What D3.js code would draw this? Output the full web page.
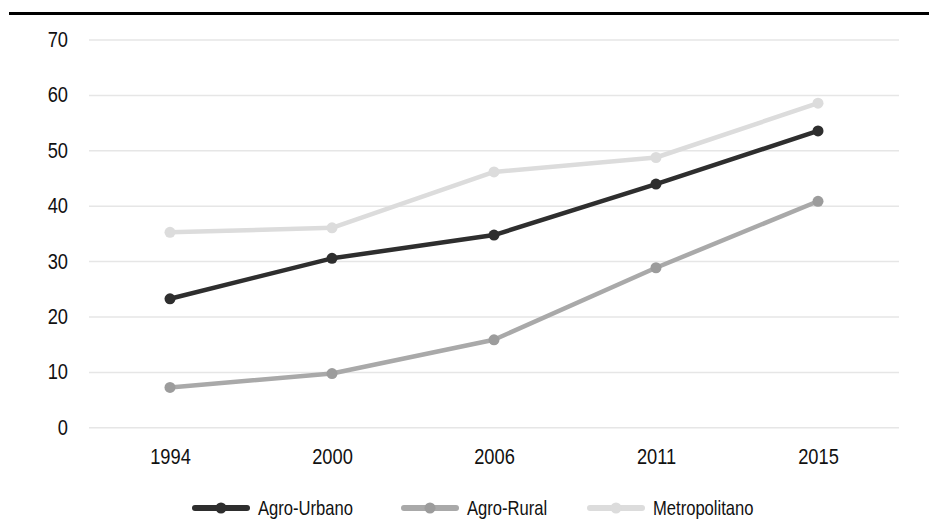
<!DOCTYPE html>
<html><head><meta charset="utf-8">
<script src="https://cdn.jsdelivr.net/npm/d3@7"></script>
<style>body{margin:0;background:#fff}svg{display:block}text{font-family:"Liberation Sans",Arial,sans-serif;fill:#111}</style>
</head><body><svg id="c" width="929" height="532"></svg>
<script>
const years = ["1994","2000","2006","2011","2015"];
const agroUrbano = [23.2, 30.5, 34.7, 43.9, 53.5];
const agroRural = [7.2, 9.7, 15.8, 28.8, 40.8];
const metropolitano = [35.2, 36.0, 46.1, 48.7, 58.5];
const yTicks = [0,10,20,30,40,50,60,70];
const seriesNames = ["Agro-Urbano","Agro-Rural","Metropolitano"];
const seriesColors = ["#2e2e2e","#a9a9a9","#dcdcdc"];
const markerColors = ["#2e2e2e","#9c9c9c","#dcdcdc"];

const SX = 0.83; // condensed look
const series = [agroUrbano, agroRural, metropolitano];
const svg = d3.select("#c");
const x = d3.scalePoint().domain(years).range([89, 899]).padding(0.5);
const y = d3.scaleLinear().domain([0,70]).range([427.3, 39.5]);

svg.append("line").attr("x1",9).attr("x2",929).attr("y1",13.5).attr("y2",13.5)
  .attr("stroke","#000").attr("stroke-width",2.8);

function condense(sel){
  sel.each(function(){
    const t = d3.select(this);
    const ox = +t.attr("x") || 0;
    t.attr("x", ox / SX).attr("transform", `scale(${SX},1)`);
  });
}

const gy = svg.append("g").attr("transform","translate(89,0)")
  .call(d3.axisLeft(y).tickValues(yTicks).tickSize(-810).tickPadding(21).tickFormat(d3.format("d")));
gy.select(".domain").remove();
gy.selectAll(".tick line").attr("stroke","#e6e6e6").attr("stroke-width",1.5);
gy.selectAll(".tick text").attr("font-size",22).style("font-family","'Liberation Sans', Arial, sans-serif").attr("fill","#111").call(condense);

const gx = svg.append("g").attr("transform","translate(0,427)")
  .call(d3.axisBottom(x).tickSize(0).tickPadding(21));
gx.select(".domain").remove();
gx.selectAll(".tick text").attr("font-size",22).style("font-family","'Liberation Sans', Arial, sans-serif").attr("fill","#111").call(condense);

const line = d3.line().x((d,i)=>x(years[i])).y(d=>y(d));
[2,1,0].forEach(k=>{
  svg.append("path").attr("d",line(series[k])).attr("fill","none")
    .attr("stroke",seriesColors[k]).attr("stroke-width",4.5).attr("stroke-linejoin","round");
  svg.append("g").selectAll("circle").data(series[k]).join("circle")
    .attr("cx",(d,i)=>x(years[i])).attr("cy",d=>y(d)).attr("r",5.5)
    .attr("fill",markerColors[k]);
});

const legX = [195, 404, 590];
const lg = svg.append("g");
seriesNames.forEach((n,k)=>{
  const g = lg.append("g").attr("transform",`translate(${legX[k]},508)`);
  g.append("line").attr("x1",0).attr("x2",52).attr("stroke",seriesColors[k]).attr("stroke-width",6).attr("stroke-linecap","round");
  g.append("circle").attr("cx",26).attr("r",5.5).attr("fill",markerColors[k]);
  g.append("text").attr("x",63).attr("y",0).attr("dy","0.35em").attr("font-size",20).call(condense).text(n);
});
</script></body></html>
